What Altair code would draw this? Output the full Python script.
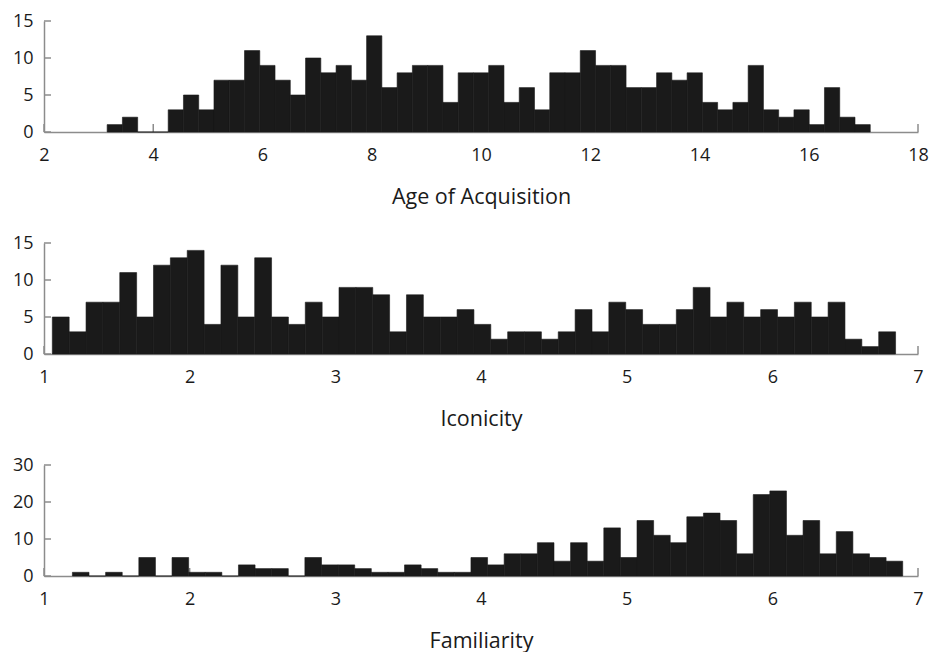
import altair as alt
import numpy as np
import pandas as pd

# ---- data (50 bins per histogram) ----
aoa_counts = [1, 2, 0, 0, 3, 5, 3, 7, 7, 11, 9, 7, 5, 10, 8, 9, 7, 13, 6, 8,
              9, 9, 4, 8, 8, 9, 4, 6, 3, 8, 8, 11, 9, 9, 6, 6, 8, 7, 8, 4,
              3, 4, 9, 3, 2, 3, 1, 6, 2, 1]
aoa_range = [3.156, 17.126]
aoa_xticks = [2, 4, 6, 8, 10, 12, 14, 16, 18]
aoa_yticks = [0, 5, 10, 15]

icon_counts = [5, 3, 7, 7, 11, 5, 12, 13, 14, 4, 12, 5, 13, 5, 4, 7, 5, 9, 9, 8,
               3, 8, 5, 5, 6, 4, 2, 3, 3, 2, 3, 6, 3, 7, 6, 4, 4, 6, 9, 5,
               7, 5, 6, 5, 7, 5, 7, 2, 1, 3]
icon_range = [1.057, 6.846]
icon_xticks = [1, 2, 3, 4, 5, 6, 7]
icon_yticks = [0, 5, 10, 15]

fam_counts = [1, 0, 1, 0, 5, 0, 5, 1, 1, 0, 3, 2, 2, 0, 5, 3, 3, 2, 1, 1,
              3, 2, 1, 1, 5, 3, 6, 6, 9, 4, 9, 4, 13, 5, 15, 11, 9, 16, 17, 15,
              6, 22, 23, 11, 15, 6, 12, 6, 5, 4]
fam_range = [1.195, 6.895]
fam_xticks = [1, 2, 3, 4, 5, 6, 7]
fam_yticks = [0, 10, 20, 30]

titles = ["Age of Acquisition", "Iconicity", "Familiarity"]

W, H = 874, 111
AXIS_GRAY = "#8c8c8c"
BAR = "#1a1a1a"
FONT = "Open Sans"


def panel(counts, rng, xticks, yticks, title):
    edges = np.linspace(rng[0], rng[1], len(counts) + 1)
    df = pd.DataFrame({"start": edges[:-1], "end": edges[1:], "count": counts})
    xs = alt.Scale(domain=[xticks[0], xticks[-1]], nice=False, zero=False)
    ys = alt.Scale(domain=[yticks[0], yticks[-1]], nice=False)
    xax = alt.Axis(values=xticks, title=title, format="d", labelFlush=False,
                   labelPadding=14, titlePadding=22)
    yax = alt.Axis(values=yticks, title=None, format="d", labelPadding=11)

    ytick = alt.Chart(pd.DataFrame({"v": yticks})).mark_rule(
        color=AXIS_GRAY, strokeWidth=1.5
    ).encode(
        y=alt.Y("v:Q", scale=ys, axis=yax),
        x=alt.value(0),
        x2=alt.value(7),
    )
    xtick = alt.Chart(pd.DataFrame({"v": xticks})).mark_rule(
        color=AXIS_GRAY, strokeWidth=1.5
    ).encode(
        x=alt.X("v:Q", scale=xs, axis=xax),
        y=alt.value(H),
        y2=alt.value(H - 8),
    )
    bars = alt.Chart(df).mark_rect(
        color=BAR, stroke=BAR, strokeWidth=0.6
    ).encode(
        x=alt.X("start:Q", scale=xs, axis=xax),
        x2="end:Q",
        y=alt.Y("count:Q", scale=ys, axis=yax),
        y2=alt.datum(0),
    )
    return alt.layer(ytick, xtick, bars).properties(width=W, height=H)


p1 = panel(aoa_counts, aoa_range, aoa_xticks, aoa_yticks, titles[0])
p2 = panel(icon_counts, icon_range, icon_xticks, icon_yticks, titles[1])
p3 = panel(fam_counts, fam_range, fam_xticks, fam_yticks, titles[2])

chart = alt.vconcat(p1, p2, p3, spacing=26).properties(
    padding={"left": 4, "top": 4, "right": 0, "bottom": 0}
).configure_view(stroke=None).configure_axis(
    grid=False,
    ticks=False,
    domainColor=AXIS_GRAY,
    domainWidth=1.5,
    labelFont=FONT,
    labelFontSize=18,
    labelColor="#1a1a1a",
    titleFont=FONT,
    titleFontSize=21.5,
    titleFontWeight="normal",
    titleColor="#1a1a1a",
)

chart.save("out.html", embed_options={"renderer": "svg", "actions": False})
